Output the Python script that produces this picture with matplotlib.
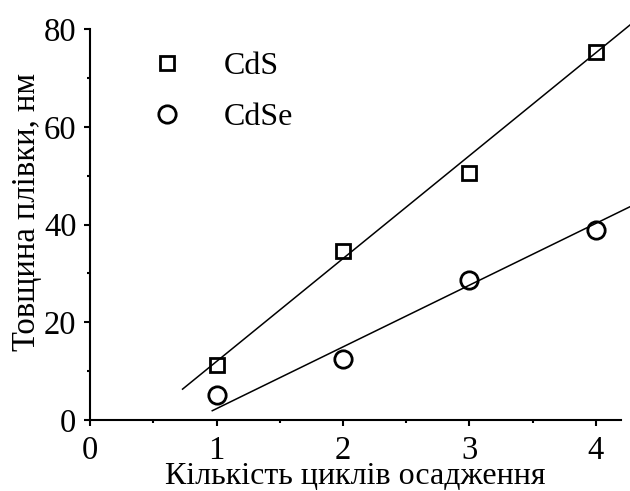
import numpy as np
import matplotlib
matplotlib.use("Agg")
import matplotlib.pyplot as plt
from matplotlib.ticker import MultipleLocator

# Film thickness vs number of deposition cycles
cycles = [1, 2, 3, 4]
cds_thickness = [11.2, 34.5, 50.6, 75.2]
cdse_thickness = [5.2, 12.4, 28.6, 38.9]

# Linear trend lines: slope, intercept, x-range
cds_fit = [21.05, -9.05]
cdse_fit = [12.63, -10.29]
cds_fit_range = [0.73, 4.4]
cdse_fit_range = [0.965, 4.4]

x_ticks = [0, 1, 2, 3, 4]
y_ticks = [0, 20, 40, 60, 80]

plt.rcParams["font.family"] = ["Liberation Serif", "DejaVu Serif"]
plt.rcParams["mathtext.fontset"] = "stix"

fig = plt.figure(figsize=(6.30, 4.91), dpi=100)
ax = fig.add_axes([0.1433, 0.1446, 0.8427, 0.7963])

for fit, rng in ((cds_fit, cds_fit_range), (cdse_fit, cdse_fit_range)):
    xs = np.array(rng)
    ax.plot(xs, fit[0] * xs + fit[1], color="black", lw=1.1, clip_on=False, zorder=2)

ax.plot(cycles, cds_thickness, linestyle="none", marker="s", ms=10.5, mew=2.0,
        mfc="none", mec="black", label="CdS", zorder=3)
ax.plot(cycles, cdse_thickness, linestyle="none", marker="o", ms=12.5, mew=2.0,
        mfc="none", mec="black", label="CdSe", zorder=3)

ax.set_xlim(0, 4.2)
ax.set_ylim(0, 80)
ax.set_xticks(x_ticks)
ax.set_yticks(y_ticks)
ax.xaxis.set_minor_locator(MultipleLocator(0.5))
ax.yaxis.set_minor_locator(MultipleLocator(10))

for side in ("top", "right"):
    ax.spines[side].set_visible(False)
for side in ("left", "bottom"):
    ax.spines[side].set_linewidth(1.5)

ax.tick_params(which="major", direction="out", length=4.5, width=1.5, labelsize=23.5)
ax.tick_params(axis="y", which="major", pad=5.5)
ax.tick_params(axis="x", which="major", pad=6.5)
ax.tick_params(which="minor", direction="out", length=2.5, width=1.5)

ax.set_xlabel("Кількість циклів осадження", fontsize=23)
ax.set_ylabel("Товщина плівки, нм", fontsize=23.5)
ax.xaxis.set_label_coords(0.5, -0.107, transform=ax.transAxes)
ax.yaxis.set_label_coords(-0.09, 0.533, transform=ax.transAxes)
ax.xaxis.label.set_va("top")

leg = ax.legend(loc="upper left", bbox_to_anchor=(0.085, 0.983), frameon=False,
                fontsize=23, handlelength=1.0, handletextpad=1.25,
                labelspacing=0.69, borderpad=0)

fig.savefig("out.png", dpi=100)
